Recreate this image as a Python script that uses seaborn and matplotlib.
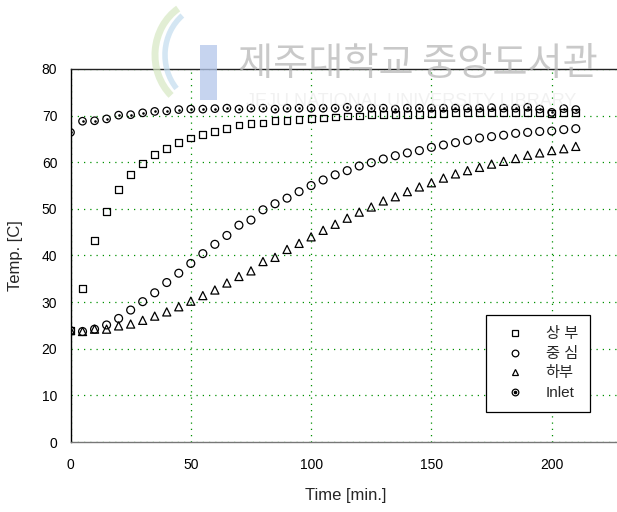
import matplotlib
matplotlib.use("Agg")
import matplotlib.pyplot as plt
import seaborn as sns
from matplotlib.lines import Line2D
from matplotlib.patches import Rectangle, Arc
from matplotlib.transforms import IdentityTransform

# Sampling times (minutes)
time_min = list(range(0, 215, 5))

# Measured temperatures [C]
upper = [24.0, 33.0, 43.2, 49.5, 54.1, 57.3, 59.7, 61.6, 63.0, 64.2, 65.2,
         66.0, 66.6, 67.2, 68.0, 68.3, 68.4, 68.9, 68.9, 69.2, 69.4, 69.5,
         69.7, 69.9, 69.9, 70.2, 70.2, 70.2, 70.3, 70.3, 70.5, 70.5, 70.6,
         70.6, 70.6, 70.7, 70.6, 70.7, 70.7, 70.6, 70.5, 70.7, 70.6]
center = [23.9, 23.7, 24.2, 25.1, 26.5, 28.3, 30.1, 32.0, 34.2, 36.2, 38.3,
          40.4, 42.4, 44.3, 46.5, 47.6, 49.8, 51.1, 52.3, 53.7, 55.0, 56.2,
          57.3, 58.2, 59.2, 59.9, 60.7, 61.4, 62.0, 62.5, 63.2, 63.7, 64.2,
          64.7, 65.2, 65.5, 65.8, 66.2, 66.4, 66.6, 66.7, 67.0, 67.2]
lower = [23.9, 23.7, 24.2, 24.2, 24.9, 25.3, 26.1, 27.0, 27.9, 29.0, 30.2,
         31.4, 32.6, 34.1, 35.5, 36.7, 38.7, 39.6, 41.3, 42.6, 44.0, 45.4,
         46.7, 48.0, 49.3, 50.4, 51.7, 52.6, 53.7, 54.7, 55.6, 56.6, 57.5,
         58.2, 58.9, 59.6, 60.2, 60.8, 61.5, 62.0, 62.5, 62.9, 63.4]
inlet = [66.4, 68.8, 68.9, 69.3, 70.1, 70.2, 70.6, 70.9, 71.0, 71.3, 71.4,
         71.4, 71.5, 71.6, 71.4, 71.6, 71.6, 71.4, 71.6, 71.6, 71.6, 71.6,
         71.6, 71.8, 71.6, 71.6, 71.6, 71.4, 71.6, 71.6, 71.6, 71.6, 71.6,
         71.6, 71.6, 71.7, 71.6, 71.6, 71.8, 71.4, 70.7, 71.5, 71.3]

series_labels = ["상 부", "중 심", "하부", "Inlet"]
x_ticks = [0, 50, 100, 150, 200]
y_ticks = [0, 10, 20, 30, 40, 50, 60, 70, 80]

sns.set_style("white")
plt.rcParams["font.family"] = ["Liberation Sans", "Noto Sans CJK KR", "DejaVu Sans"]

fig = plt.figure(figsize=(6.17, 5.12), dpi=100)
ax = fig.add_axes([70.5 / 617, 70 / 512, 553.4 / 617, 373 / 512])

edge = dict(facecolor="none", edgecolor="black", linewidth=0.9)
sns.scatterplot(x=time_min, y=upper, marker="s", s=24, ax=ax, zorder=3, **edge)
sns.scatterplot(x=time_min, y=center, marker="o", s=32, ax=ax, zorder=3, **edge)
sns.scatterplot(x=time_min, y=lower, marker="^", s=34, ax=ax, zorder=3, **edge)
sns.scatterplot(x=time_min, y=inlet, marker="o", s=29, ax=ax, zorder=4, **edge)
sns.scatterplot(x=time_min, y=inlet, marker="o", s=3.5, color="black",
                linewidth=0, ax=ax, zorder=5)

ax.set_xlim(0, 230)
ax.set_ylim(0, 80)
ax.set_xticks(x_ticks)
ax.set_yticks(y_ticks)

ax.grid(True, color="#009000", linestyle=(0, (1, 4)), linewidth=0.9)
ax.set_axisbelow(True)

for side in ["left", "top", "right", "bottom"]:
    ax.spines[side].set_linewidth(1.0)
ax.spines["left"].set_color("black")
ax.spines["top"].set_color("#222222")
ax.spines["bottom"].set_color("#777777")
ax.spines["right"].set_visible(False)

ax.tick_params(axis="both", direction="out", length=4.5, width=0.9,
               color="#444444", labelsize=10, labelcolor="black")
ax.tick_params(axis="x", pad=7)
ax.tick_params(axis="y", pad=5)

ax.set_xlabel("Time [min.]", fontsize=12)
ax.set_ylabel("Temp. [C]", fontsize=12)
ax.xaxis.set_label_coords(275 / 553.4, (442 - 488) / 373)
ax.yaxis.set_label_coords((23 - 70.5) / 553.4, 0.5)

mk = dict(linestyle="", markerfacecolor="none", markeredgecolor="black",
          markeredgewidth=0.9)
handles = [
    Line2D([], [], marker="s", markersize=4.3, **mk),
    Line2D([], [], marker="o", markersize=4.8, **mk),
    Line2D([], [], marker="^", markersize=4.8, **mk),
    (Line2D([], [], marker="o", markersize=4.8, **mk),
     Line2D([], [], marker="o", markersize=1.6, linestyle="",
            color="black")),
]
leg = ax.legend(handles, series_labels, loc="upper left",
                bbox_to_anchor=(0.751, 0.340), borderaxespad=0,
                frameon=True, fancybox=False, edgecolor="black",
                framealpha=1, fontsize=11, borderpad=0.8,
                handlelength=2.2, handletextpad=0.9, labelspacing=0.36)
leg.get_frame().set_linewidth(0.9)

# library watermark band across the top
fig.text(238 / 617, 1 - 64 / 512, "제주대학교 중앙도서관", fontsize=27.5,
         fontweight="medium", color="#b8b8b8", alpha=0.75, va="center",
         ha="left", family=["Noto Sans CJK KR"], zorder=10)
fig.text(246 / 617, 1 - 102 / 512, "JEJU NATIONAL UNIVERSITY LIBRARY",
         fontsize=13, color="#e6e6e6", alpha=0.55, va="center", ha="left",
         zorder=10)
fig.add_artist(Rectangle((200, 512 - 100), 17, 55, transform=IdentityTransform(),
                         facecolor="#b3c6ea", edgecolor="none", alpha=0.75,
                         zorder=10))
fig.add_artist(Arc((205, 512 - 55), 100, 110, theta1=120, theta2=230,
                   transform=IdentityTransform(), color="#d6e8c2",
                   linewidth=5, alpha=0.7, zorder=10))
fig.add_artist(Arc((210, 512 - 55), 90, 100, theta1=125, theta2=225,
                   transform=IdentityTransform(), color="#c2dcee",
                   linewidth=4, alpha=0.7, zorder=10))

fig.savefig("out.png", dpi=100)
